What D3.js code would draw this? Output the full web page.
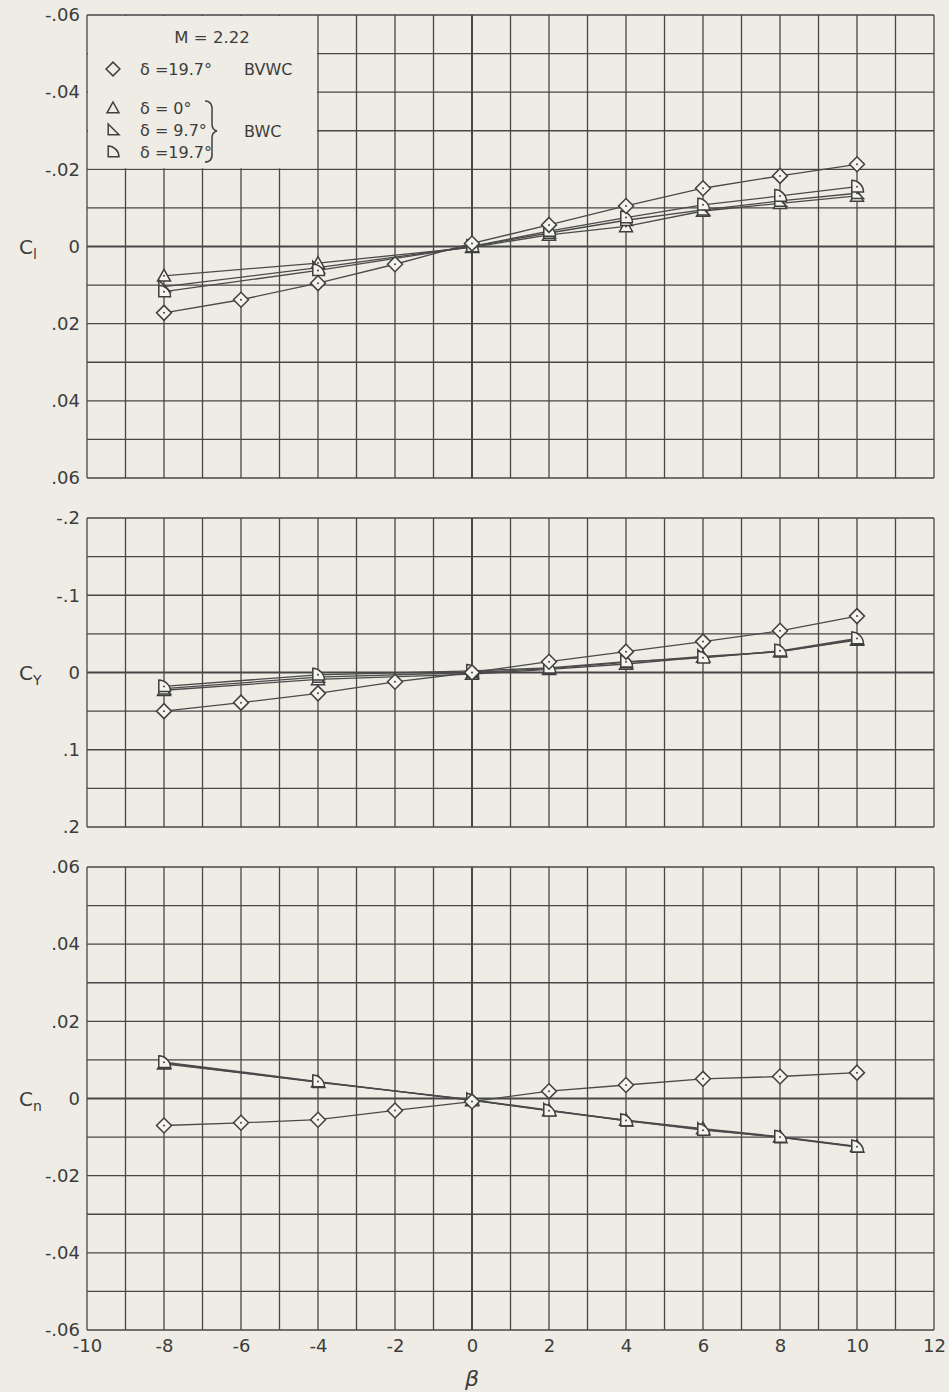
<!DOCTYPE html>
<html>
<head>
<meta charset="utf-8">
<script src="https://cdn.jsdelivr.net/npm/d3@7"></script>
<style>
  html, body { margin: 0; padding: 0; background: #eeece5; }
  svg { display: block; }
  text { font-family: "DejaVu Sans", "Open Sans", sans-serif; fill: #3c3c3c; }
</style>
</head>
<body>
<svg id="chart" width="949" height="1392"></svg>
<script>
// ---------------- DATA ----------------
const betaDiamond = [-8, -6, -4, -2, 0, 2, 4, 6, 8, 10];
const betaBWC = [-8, -4, 0, 2, 4, 6, 8, 10];

// Rolling moment C_l
const clDiamond = [0.0172, 0.0138, 0.0095, 0.0046, -0.0008, -0.0056, -0.0105, -0.0151, -0.0183, -0.0213];
const clTri0    = [0.0076, 0.0043, 0.0002, -0.0030, -0.0052, -0.0092, -0.0112, -0.0131];
const clTri97   = [0.0104, 0.0055, 0.0000, -0.0035, -0.0068, -0.0095, -0.0118, -0.0138];
const clD197    = [0.0117, 0.0062, 0.0000, -0.0040, -0.0075, -0.0108, -0.0131, -0.0155];

// Side force C_Y
const cyDiamond = [0.050, 0.039, 0.027, 0.012, 0.000, -0.014, -0.027, -0.040, -0.054, -0.073];
const cyTri0    = [0.023, 0.009, 0.002, -0.004, -0.011, -0.020, -0.027, -0.042];
const cyTri97   = [0.021, 0.006, 0.000, -0.005, -0.013, -0.021, -0.027, -0.043];
const cyD197    = [0.018, 0.003, -0.002, -0.006, -0.014, -0.019, -0.028, -0.044];

// Yawing moment C_n
const cnDiamond = [-0.0070, -0.0063, -0.0055, -0.0031, -0.0008, 0.0019, 0.0035, 0.0051, 0.0057, 0.0067];
const cnTri0    = [0.0090, 0.0043, -0.0005, -0.0031, -0.0056, -0.0078, -0.0099, -0.0124];
const cnTri97   = [0.0092, 0.0042, -0.0003, -0.0030, -0.0058, -0.0080, -0.0101, -0.0126];
const cnD197    = [0.0094, 0.0044, -0.0004, -0.0032, -0.0057, -0.0082, -0.0100, -0.0125];

const xTicks = [-10, -8, -6, -4, -2, 0, 2, 4, 6, 8, 10, 12];
const clTicks = [-0.06, -0.04, -0.02, 0, 0.02, 0.04, 0.06];
const cyTicks = [-0.2, -0.1, 0, 0.1, 0.2];
const cnTicks = [0.06, 0.04, 0.02, 0, -0.02, -0.04, -0.06];

const legendRows = [
  { shape: "diamond", text: "δ =19.7°" },
  { shape: "tri", text: "δ = 0°" },
  { shape: "rtri", text: "δ = 9.7°" },
  { shape: "dshape", text: "δ =19.7°" }
];

// ---------------- DRAW ----------------
const svg = d3.select("#chart");
const ink = "#474747";
const bg = "#eeece5";

const x = d3.scaleLinear().domain([-10, 12]).range([87, 934]);

const panels = [
  { label: "l", y: d3.scaleLinear().domain([-0.06, 0.06]).range([15, 478]), step: 0.01, ticks: clTicks,
    series: [
      { shape: "tri", b: betaBWC, v: clTri0 },
      { shape: "rtri", b: betaBWC, v: clTri97 },
      { shape: "dshape", b: betaBWC, v: clD197 },
      { shape: "diamond", b: betaDiamond, v: clDiamond }
    ] },
  { label: "Y", y: d3.scaleLinear().domain([-0.2, 0.2]).range([518, 827]), step: 0.05, ticks: cyTicks,
    series: [
      { shape: "tri", b: betaBWC, v: cyTri0 },
      { shape: "rtri", b: betaBWC, v: cyTri97 },
      { shape: "dshape", b: betaBWC, v: cyD197 },
      { shape: "diamond", b: betaDiamond, v: cyDiamond }
    ] },
  { label: "n", y: d3.scaleLinear().domain([0.06, -0.06]).range([867, 1330]), step: 0.01, ticks: cnTicks,
    series: [
      { shape: "tri", b: betaBWC, v: cnTri0 },
      { shape: "rtri", b: betaBWC, v: cnTri97 },
      { shape: "dshape", b: betaBWC, v: cnD197 },
      { shape: "diamond", b: betaDiamond, v: cnDiamond }
    ] }
];

function fmt(v) {
  if (Math.abs(v) < 1e-9) return "0";
  let s = d3.format(".2~f")(Math.abs(v)).replace(/^0\./, ".");
  return (v < 0 ? "-" : "") + s;
}

function shapePath(shape, s) {
  switch (shape) {
    case "diamond": return `M0,${-s*1.15}L${s*1.15},0L0,${s*1.15}L${-s*1.15},0Z`;
    case "tri": return `M0,${-s}L${s},${s*0.8}L${-s},${s*0.8}Z`;
    case "rtri": return `M${-s*0.8},${-s}L${-s*0.8},${s*0.8}L${s},${s*0.8}Z`;
    case "dshape": return `M${-s*0.8},${-s}L${-s*0.8},${s*0.8}L${s},${s*0.8}C${s},${-s*0.2} ${s*0.1},${-s} ${-s*0.8},${-s}Z`;
  }
}

const xGrid = d3.range(-10, 12.001, 1);

panels.forEach((p, pi) => {
  const g = svg.append("g");
  const [y0, y1] = p.y.domain();
  const lo = Math.min(y0, y1), hi = Math.max(y0, y1);
  const yGrid = d3.range(Math.round(lo / p.step), Math.round(hi / p.step) + 1).map(k => k * p.step);

  g.selectAll("line.vg").data(xGrid).join("line")
    .attr("x1", d => x(d)).attr("x2", d => x(d))
    .attr("y1", p.y.range()[0]).attr("y2", p.y.range()[1])
    .attr("stroke", ink).attr("stroke-width", d => (d === 0 ? 2 : 1.3));
  g.selectAll("line.hg").data(yGrid).join("line")
    .attr("x1", x(-10)).attr("x2", x(12))
    .attr("y1", d => p.y(d)).attr("y2", d => p.y(d))
    .attr("stroke", ink).attr("stroke-width", d => (Math.abs(d) < 1e-9 ? 2.2 : 1.3));

  if (pi === 0) {
    g.append("rect")
      .attr("x", x(-10) + 1).attr("y", p.y(-0.06) + 1)
      .attr("width", x(-4) - x(-10) - 2).attr("height", p.y(-0.02) - p.y(-0.06) - 2)
      .attr("fill", bg);
  }

  const yAxis = d3.axisLeft(p.y).tickValues(p.ticks).tickSize(0).tickPadding(7).tickFormat(fmt);
  const ax = g.append("g").attr("transform", `translate(${x(-10)},0)`).call(yAxis);
  ax.select(".domain").remove();
  ax.selectAll("text").attr("font-size", 18).attr("fill", "#3c3c3c")
    .style("font-family", '"DejaVu Sans", sans-serif');

  const lab = g.append("text").attr("x", 19).attr("y", p.y(0) + 7).attr("font-size", 20);
  lab.append("tspan").text("C");
  lab.append("tspan").attr("font-size", 14).attr("dy", 5).text(p.label);

  const line = d3.line().x(d => x(d[0])).y(d => p.y(d[1]));
  p.series.forEach(s => {
    const pts = s.b.map((b, i) => [b, s.v[i]]);
    g.append("path").attr("d", line(pts)).attr("fill", "none")
      .attr("stroke", "#4a4a4a").attr("stroke-width", 1.3);
  });
  p.series.forEach(s => {
    const pts = s.b.map((b, i) => [b, s.v[i]]);
    const mg = g.selectAll(null).data(pts).join("g")
      .attr("transform", d => `translate(${x(d[0])},${p.y(d[1])})`);
    mg.append("path").attr("d", shapePath(s.shape, 6.5))
      .attr("fill", "#f4f3ee").attr("stroke", "#3f3f3f").attr("stroke-width", 1.5);
    mg.append("circle").attr("r", 1).attr("fill", "#444");
  });
});

const xAxis = d3.axisBottom(x).tickValues(xTicks).tickSize(0).tickPadding(9).tickFormat(d => d < 0 ? "-" + Math.abs(d) : String(d));
const xa = svg.append("g").attr("transform", `translate(0,${1330})`).call(xAxis);
xa.select(".domain").remove();
xa.selectAll("text").attr("font-size", 18).attr("fill", "#3c3c3c")
  .style("font-family", '"DejaVu Sans", sans-serif');

svg.append("text").attr("x", x(0)).attr("y", 1386).attr("text-anchor", "middle")
  .attr("font-size", 22).attr("font-style", "italic").text("β");

const lg = svg.append("g");
lg.append("text").attr("x", 212).attr("y", 43).attr("text-anchor", "middle").attr("font-size", 16.5).text("M = 2.22");
const rowY = [69, 108, 130, 152];
legendRows.forEach((r, i) => {
  lg.append("path").attr("transform", `translate(113,${rowY[i]})`).attr("d", shapePath(r.shape, 6))
    .attr("fill", "none").attr("stroke", "#3f3f3f").attr("stroke-width", 1.5);
  lg.append("text").attr("x", 140).attr("y", rowY[i] + 6).attr("font-size", 16).text(r.text);
});
lg.append("text").attr("x", 244).attr("y", 75).attr("font-size", 16).text("BVWC");
lg.append("text").attr("x", 244).attr("y", 137).attr("font-size", 16).text("BWC");
lg.append("path").attr("d", "M205,101 Q213,101 212,112 L212,124 Q212,130 217,131 Q212,132 212,138 L212,152 Q213,162 205,162")
  .attr("fill", "none").attr("stroke", "#3f3f3f").attr("stroke-width", 1.5);
</script>
</body>
</html>
